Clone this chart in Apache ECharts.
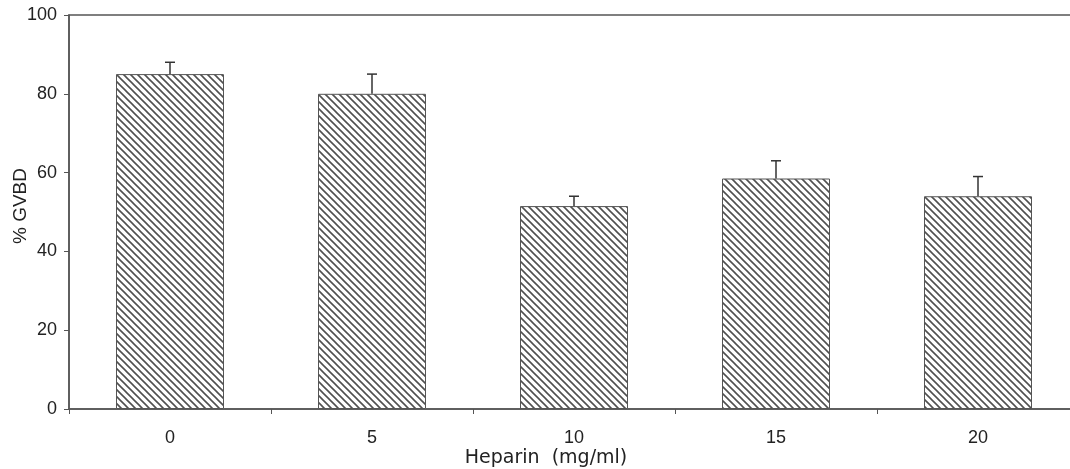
<!DOCTYPE html>
<html>
<head>
<meta charset="utf-8">
<script src="https://cdn.jsdelivr.net/npm/echarts@6/dist/echarts.min.js"></script>
<style>
html,body{margin:0;padding:0;background:#fff;}
#chart{width:1070px;height:469px;}
</style>
</head>
<body>
<div id="chart"></div>
<script>
const categories = ['0', '5', '10', '15', '20'];
const means = [85, 80, 51.5, 58.5, 54];
const errors = [3, 5, 2.5, 4.5, 5];
const yTicks = [0, 20, 40, 60, 80, 100];

function makePattern() {
  const s = 7;
  const c = document.createElement('canvas');
  c.width = s; c.height = s;
  const ctx = c.getContext('2d');
  ctx.fillStyle = '#ffffff';
  ctx.fillRect(0, 0, s, s);
  ctx.strokeStyle = '#505050';
  ctx.lineWidth = 1.6;
  ctx.beginPath();
  for (let k = -1; k <= 1; k++) {
    ctx.moveTo(k * s - 1, -1);
    ctx.lineTo(k * s + s + 1, s + 1);
  }
  ctx.stroke();
  return c;
}

const chart = echarts.init(document.getElementById('chart'));
const font = 'Liberation Sans, Arial, sans-serif';
chart.setOption({
  animation: false,
  grid: {
    left: 69, top: 15, width: 1010, height: 394,
    outerBoundsMode: 'none', containLabel: false,
    show: true, borderColor: '#555', borderWidth: 1.5, backgroundColor: 'transparent'
  },
  xAxis: {
    type: 'category',
    data: categories,
    name: 'Heparin  (mg/ml)',
    nameLocation: 'middle',
    nameGap: 40,
    nameMoveOverlap: false,
    nameTextStyle: { fontFamily: 'DejaVu Sans, sans-serif', fontSize: 19, color: '#222', padding: [0, 56, 0, 0] },
    axisLine: { lineStyle: { color: '#555', width: 1.5 } },
    axisTick: { show: true, alignWithLabel: false, length: 5, lineStyle: { color: '#555' } },
    axisLabel: { fontFamily: font, fontSize: 18, color: '#222', margin: 20 },
    splitLine: { show: false }
  },
  yAxis: {
    type: 'value',
    min: yTicks[0],
    max: yTicks[yTicks.length - 1],
    interval: 20,
    name: '% GVBD',
    nameLocation: 'middle',
    nameRotate: 90,
    nameGap: 39,
    nameMoveOverlap: false,
    nameTextStyle: { fontFamily: font, fontSize: 19, color: '#222', padding: [0, 0, 0, 12] },
    axisLine: { show: true, lineStyle: { color: '#555', width: 1.5 } },
    axisTick: { show: true, length: 5, lineStyle: { color: '#555' } },
    axisLabel: { fontFamily: font, fontSize: 18, color: '#222', margin: 12 },
    splitLine: { show: false }
  },
  series: [
    {
      type: 'bar',
      data: means,
      barWidth: 108,
      itemStyle: {
        color: { image: makePattern(), repeat: 'repeat' },
        borderColor: '#555',
        borderWidth: 1
      }
    },
    {
      type: 'custom',
      z: 5,
      data: means.map((m, i) => [i, m, m + errors[i]]),
      renderItem: function (params, api) {
        const x = api.value(0);
        const p0 = api.coord([x, api.value(1)]);
        const p1 = api.coord([x, api.value(2)]);
        const hw = 5;
        return {
          type: 'group',
          children: [
            { type: 'line', shape: { x1: p0[0], y1: p0[1], x2: p1[0], y2: p1[1] }, style: { stroke: '#333', lineWidth: 1.5 } },
            { type: 'line', shape: { x1: p1[0] - hw, y1: p1[1], x2: p1[0] + hw, y2: p1[1] }, style: { stroke: '#333', lineWidth: 1.5 } }
          ]
        };
      }
    }
  ]
});
</script>
</body>
</html>
